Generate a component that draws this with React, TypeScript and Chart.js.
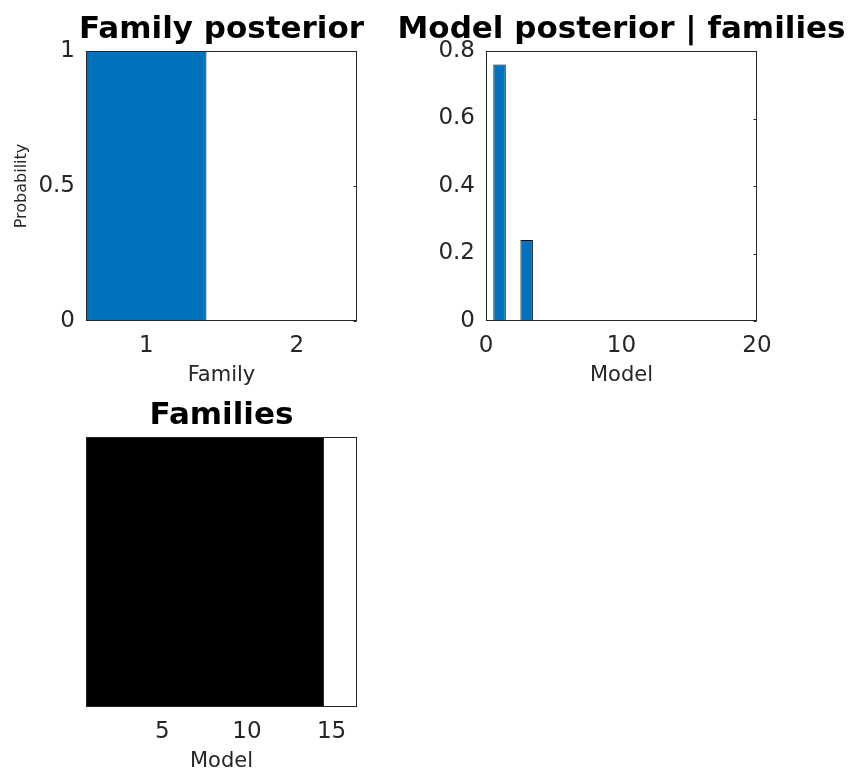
import React, { useEffect, useRef } from "react";
import { Chart, registerables } from "chart.js";
Chart.register(...registerables);

// ---------- data ----------
const familyIds = [1, 2];
const familyPosterior = [1, 0];
const familyXTicks = [1, 2];
const familyYTicks = [0, 0.5, 1];

const modelIds = [1, 2, 3, 4, 5, 6, 7, 8, 9, 10, 11, 12, 13, 14, 15, 16];
const modelPosterior = [0.76, 0, 0.24, 0, 0, 0, 0, 0, 0, 0, 0, 0, 0, 0, 0, 0];
const modelXTicks = [0, 10, 20];
const modelYTicks = [0, 0.2, 0.4, 0.6, 0.8];

const familyMembership = [1, 1, 1, 1, 1, 1, 1, 1, 1, 1, 1, 1, 1, 1, 0, 0];
const familiesXTicks = [5, 10, 15];

// ---------- styling ----------
const W = 848;
const H = 771;
const FONT = "DejaVu Sans";
const AX = "#262626";
const BLUE = "#0072BD";

const panelPlugin = (title: string, rightTicks: boolean) => ({
  id: "panel",
  afterDatasetsDraw(chart: any) {
    const { ctx, chartArea: a } = chart;
    ctx.save();
    ctx.strokeStyle = AX;
    ctx.lineWidth = 1;
    const l = Math.round(a.left) + 0.5;
    const t = Math.round(a.top) + 0.5;
    const r = Math.round(a.right) - 0.5;
    const b = Math.round(a.bottom) - 0.5;
    ctx.strokeRect(l, t, r - l, b - t);
    if (rightTicks) {
      const ys = chart.scales.y;
      ctx.beginPath();
      ys.ticks.forEach((tk: any) => {
        const py = Math.round(ys.getPixelForValue(tk.value)) + 0.5;
        ctx.moveTo(r, py);
        ctx.lineTo(r - 3, py);
      });
      ctx.stroke();
    }
    ctx.fillStyle = "#000";
    ctx.font = `bold 31px "${FONT}"`;
    ctx.textAlign = "center";
    ctx.textBaseline = "alphabetic";
    ctx.fillText(title, (a.left + a.right) / 2, a.top - 13);
    ctx.restore();
  },
});

const fixedTicks = (vals: number[]) => (s: any) => {
  s.ticks = vals.map((v) => ({ value: v }));
};

const xAxis = (min: number, max: number, ticks: number[], title: string, height: number, titlePadBottom: number) => ({
  type: "linear" as const,
  min,
  max,
  offset: false,
  afterBuildTicks: fixedTicks(ticks),
  afterFit: (s: any) => {
    s.height = height;
  },
  border: { display: false },
  grid: { display: false, drawTicks: false, offset: false },
  ticks: {
    color: AX,
    font: { family: FONT, size: 23 },
    padding: 11,
    maxRotation: 0,
    autoSkip: false,
    callback: (v: any) => String(v),
  },
  title: {
    display: true,
    text: title,
    color: AX,
    font: { family: FONT, size: 21 },
    padding: { top: 0, bottom: titlePadBottom },
  },
});

const yAxis = (max: number, ticks: number[], title?: string) => ({
  type: "linear" as const,
  min: 0,
  max,
  afterBuildTicks: fixedTicks(ticks),
  afterFit: (s: any) => {
    s.width = 86;
  },
  border: { display: false },
  grid: { display: false, drawTicks: false },
  ticks: {
    color: AX,
    font: { family: FONT, size: 23 },
    padding: 11,
    callback: (v: any) => String(v),
  },
  title: {
    display: !!title,
    text: title || "",
    color: AX,
    font: { family: FONT, size: 16 },
    padding: { top: 12, bottom: 0 },
  },
});

function useChart(makeConfig: () => any) {
  const ref = useRef<HTMLCanvasElement | null>(null);
  useEffect(() => {
    if (!ref.current) return;
    const chart = new Chart(ref.current, makeConfig());
    return () => chart.destroy();
  }, []);
  return ref;
}

const baseOptions = {
  responsive: false,
  animation: false as const,
  devicePixelRatio: 1,
  plugins: { legend: { display: false }, tooltip: { enabled: false }, title: { display: false } },
};

export default function App() {
  const r1 = useChart(() => ({
    type: "bar",
    data: {
      datasets: [
        {
          data: familyIds.map((x, i) => ({ x, y: familyPosterior[i] })),
          backgroundColor: BLUE,
          borderColor: "#000",
          borderWidth: 1,
          borderSkipped: false,
          barPercentage: 0.8,
          categoryPercentage: 1,
        },
      ],
    },
    options: {
      ...baseOptions,
      layout: { padding: { left: 0, top: 51, right: W - 357, bottom: H - 321 - 70 } },
      scales: {
        x: xAxis(0.6, 2.4, familyXTicks, "Family", 70, 3),
        y: yAxis(1, familyYTicks, "Probability"),
      },
    },
    plugins: [panelPlugin("Family posterior", true)],
  }));

  const r2 = useChart(() => ({
    type: "bar",
    data: {
      datasets: [
        {
          data: modelIds.map((x, i) => ({ x, y: modelPosterior[i] })),
          backgroundColor: BLUE,
          borderColor: "#000",
          borderWidth: 1,
          borderSkipped: false,
          barPercentage: 0.92,
          categoryPercentage: 1,
        },
      ],
    },
    options: {
      ...baseOptions,
      layout: { padding: { left: 400, top: 51, right: W - 757, bottom: H - 321 - 70 } },
      scales: {
        x: xAxis(0, 20, modelXTicks, "Model", 70, 3),
        y: yAxis(0.8, modelYTicks),
      },
    },
    plugins: [panelPlugin("Model posterior | families", true)],
  }));

  const r3 = useChart(() => ({
    type: "bar",
    data: {
      datasets: [
        {
          data: modelIds.map((x, i) => ({ x, y: familyMembership[i] })),
          backgroundColor: "#000",
          borderWidth: 0,
          inflateAmount: 0.7,
          barPercentage: 1,
          categoryPercentage: 1,
        },
      ],
    },
    options: {
      ...baseOptions,
      layout: { padding: { left: 86, top: 437, right: W - 357, bottom: 0 } },
      scales: {
        x: xAxis(0.5, 16.5, familiesXTicks, "Model", H - 707, -3),
        y: { type: "linear", min: 0, max: 1, display: false },
      },
    },
    plugins: [panelPlugin("Families", false)],
  }));

  const cs: React.CSSProperties = { position: "absolute", left: 0, top: 0 };
  return (
    <div style={{ position: "absolute", left: 0, top: 0, width: W, height: H, overflow: "hidden", background: "#fff" }}>
      <canvas ref={r1} width={W} height={H} style={cs} />
      <canvas ref={r2} width={W} height={H} style={cs} />
      <canvas ref={r3} width={W} height={H} style={cs} />
    </div>
  );
}
